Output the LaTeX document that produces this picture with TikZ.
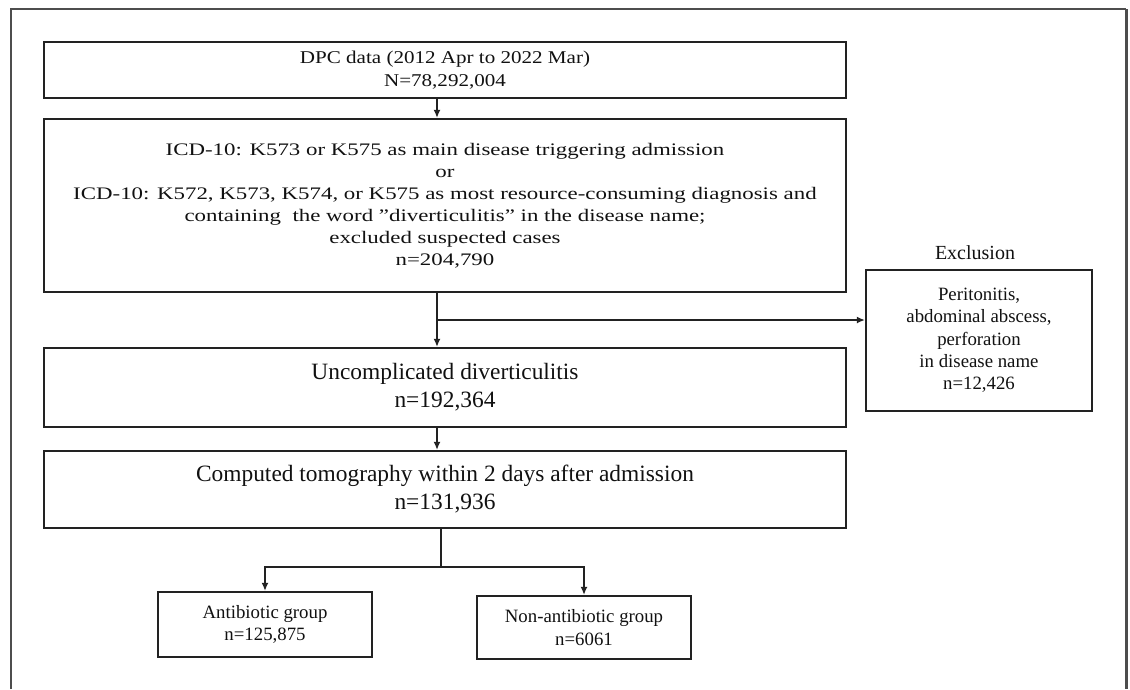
\documentclass[tikz,border=0pt]{standalone}
\usepackage{fontspec}
\setmainfont{Liberation Serif}
\newfontfamily\widea{Liberation Serif}[FakeStretch=1.17]
\newfontfamily\wideb{Liberation Serif}[FakeStretch=1.3]
\usetikzlibrary{arrows.meta}
\definecolor{boxcol}{HTML}{222222}
\definecolor{framecol}{HTML}{4D4D4D}
\definecolor{txtcol}{HTML}{111111}
\begin{document}
\begin{tikzpicture}[x=1pt,y=-1pt,
  box/.style={draw=boxcol, line width=2.2pt, rectangle, inner sep=0pt, align=center, text=txtcol},
  conn/.style={draw=boxcol, line width=1.8pt, -{Latex[length=8pt,width=7pt]}},
  plain/.style={draw=boxcol, line width=1.8pt},
  fbig/.style={font=\fontsize{23.4}{28}\selectfont},
  fsmall/.style={font=\fontsize{18.8}{22.3}\selectfont}]
\useasboundingbox (0,0) rectangle (1130,689);
% outer frame
\draw[framecol, line width=1.6pt] (11,689) -- (11,9) -- (1126,9);
\draw[framecol, line width=3pt] (1126,9) -- (1126,689);
% boxes
\node[box, minimum width=802pt, minimum height=56pt,
  font=\widea\fontsize{18}{23}\selectfont] (b1) at (445,70)
  {DPC data (2012 Apr to 2022 Mar)\\N=78,292,004};
\node[box, minimum width=802pt, minimum height=173pt,
  font=\wideb\fontsize{17.6}{22}\selectfont] (b2) at (445,205.5)
  {ICD-10: K573 or K575 as main disease triggering admission\\
   or\\
   ICD-10: K572, K573, K574, or K575 as most resource-consuming diagnosis and\\
   containing~ the word ”diverticulitis” in the disease name;\\
   excluded suspected cases\\
   n=204,790};
\node[box, fbig, minimum width=802pt, minimum height=79pt] (b3) at (445,387.5)
  {Uncomplicated diverticulitis\\n=192,364};
\node[box, fbig, minimum width=802pt, minimum height=77pt] (b4) at (445,489.5)
  {Computed tomography within 2 days after admission\\n=131,936};
\node[box, fsmall, minimum width=226pt, minimum height=141pt] (ex) at (979,340.5)
  {Peritonitis,\\abdominal abscess,\\perforation\\in disease name\\n=12,426};
\node[font=\fontsize{20}{24}\selectfont, text=txtcol, inner sep=0pt] (exl) at (975,253) {Exclusion};
\node[box, fsmall, minimum width=214pt, minimum height=65pt] (ab) at (265,624.5)
  {Antibiotic group\\n=125,875};
\node[box, fsmall, minimum width=214pt, minimum height=63pt] (nab) at (584,627.5)
  {Non-antibiotic group\\n=6061};
% connectors
\draw[conn] ([xshift=-8pt]b1.south) -- ([xshift=-8pt]b2.north);
\draw[conn] ([xshift=-8pt]b2.south) -- ([xshift=-8pt]b3.north);
\coordinate (br) at (437,320);
\draw[conn] (br) -- (br -| ex.west);
\draw[conn] ([xshift=-8pt]b3.south) -- ([xshift=-8pt]b4.north);
\coordinate (sp) at (441,567);
\draw[plain] ([xshift=-4pt]b4.south) -- (sp);
\draw[conn] (sp) -| (ab.north);
\draw[conn] (sp) -| (nab.north);
\end{tikzpicture}
\end{document}
